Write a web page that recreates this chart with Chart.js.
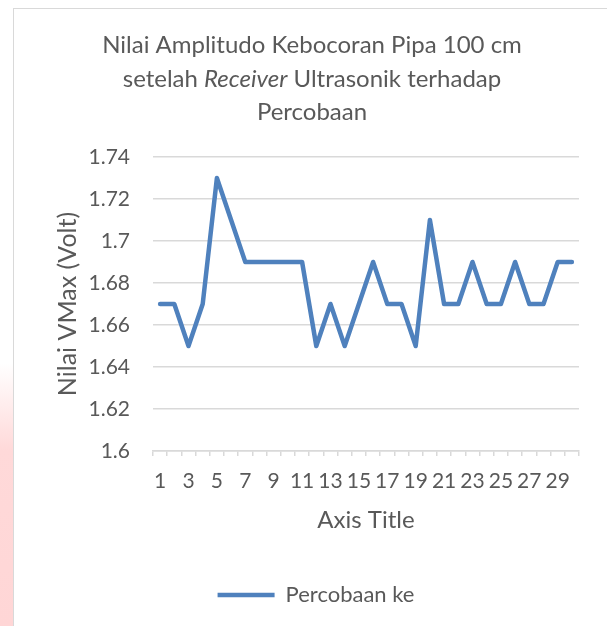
<!DOCTYPE html>
<html>
<head>
<meta charset="utf-8">
<script src="https://cdn.jsdelivr.net/npm/chart.js@4.4.0/dist/chart.umd.min.js"></script>
<style>
  html, body { margin: 0; padding: 0; background: #fff; }
  #wrap { position: relative; width: 607px; height: 626px; overflow: hidden; }
  #frame { position: absolute; left: 13px; top: 8px; width: 620px; height: 640px; border: 1px solid #d9d9d9; }
  #mark { position: absolute; left: 0; top: 0; width: 13px; height: 626px;
          background: linear-gradient(to bottom, #fff 0%, #fff 58%, #ffd9d9 72%, #ffd6d6 100%); }
  canvas { position: absolute; left: 0; top: 0; }
</style>
</head>
<body>
<div id="wrap">
  <div id="mark"></div>
  <div id="frame"></div>
  <canvas id="lineChart" width="607" height="626"></canvas>
</div>
<script>
var percobaan = ['1','2','3','4','5','6','7','8','9','10','11','12','13','14','15',
                 '16','17','18','19','20','21','22','23','24','25','26','27','28','29','30'];
var vmax = [1.67, 1.67, 1.65, 1.67, 1.73, 1.71, 1.69, 1.69, 1.69, 1.69,
            1.69, 1.65, 1.67, 1.65, 1.67, 1.69, 1.67, 1.67, 1.65, 1.71,
            1.67, 1.67, 1.69, 1.67, 1.67, 1.69, 1.67, 1.67, 1.69, 1.69];
var yMin = 1.6, yMax = 1.74, yStep = 0.02;

var textColor = '#595959';
var gridColor = '#d9d9d9';
var fontName = 'Lato';

// title with italic "Receiver" (Chart.js title can't mix styles)
var titlePlugin = {
    id: 'mixedTitle',
    afterDraw: function(chart) {
        var ctx = chart.ctx;
        var cx = 312;
        var size = '24px ';
        var lines = [
            [['Nilai Amplitudo Kebocoran Pipa 100 cm', '']],
            [['setelah ', ''], ['Receiver', 'italic '], [' Ultrasonik terhadap', '']],
            [['Percobaan', '']]
        ];
        var baselines = [53, 86.5, 120];
        ctx.save();
        ctx.fillStyle = textColor;
        ctx.textBaseline = 'alphabetic';
        ctx.textAlign = 'left';
        lines.forEach(function(parts, i) {
            var total = 0;
            parts.forEach(function(p) {
                ctx.font = p[1] + size + fontName;
                total += ctx.measureText(p[0]).width;
            });
            var x = cx - total / 2;
            parts.forEach(function(p) {
                ctx.font = p[1] + size + fontName;
                ctx.fillText(p[0], x, baselines[i]);
                x += ctx.measureText(p[0]).width;
            });
        });
        ctx.restore();
    }
};

var ctx = document.getElementById('lineChart').getContext('2d');
new Chart(ctx, {
    type: 'line',
    data: {
        labels: percobaan,
        datasets: [{
            label: 'Percobaan ke',
            data: vmax,
            borderColor: '#4f81bd',
            backgroundColor: '#4f81bd',
            borderWidth: 4.5,
            borderCapStyle: 'round',
            borderJoinStyle: 'round',
            pointRadius: 0,
            tension: 0
        }]
    },
    options: {
        responsive: false,
        animation: false,
        layout: {
            padding: { top: 157, left: 53, right: 28, bottom: 10 }
        },
        scales: {
            x: {
                offset: true,
                grid: { offset: true, drawOnChartArea: false, drawTicks: true, tickLength: 5, color: gridColor, lineWidth: 1.5 },
                border: { display: true, color: gridColor, width: 1.5 },
                ticks: {
                    autoSkip: false,
                    maxRotation: 0,
                    padding: 13,
                    color: textColor,
                    font: { family: fontName, size: 21 },
                    callback: function(val, i) {
                        return i % 2 === 0 ? this.getLabelForValue(val) : '';
                    }
                },
                title: {
                    display: true,
                    text: 'Axis Title',
                    color: textColor,
                    font: { family: fontName, size: 24 },
                    padding: { top: 39, bottom: 39 }
                },
                afterFit: function(s) { s.height = 123; }
            },
            y: {
                min: yMin,
                max: yMax,
                grid: { drawTicks: false, color: gridColor, lineWidth: 1.5 },
                border: { display: false },
                ticks: {
                    stepSize: yStep,
                    padding: 23,
                    color: textColor,
                    font: { family: fontName, size: 21 },
                    callback: function(v) { return String(Math.round(v * 100) / 100); }
                },
                title: {
                    display: true,
                    text: 'Nilai VMax (Volt)',
                    color: textColor,
                    font: { family: fontName, size: 25 },
                    padding: { top: 0, bottom: 4 }
                },
                afterFit: function(s) { s.width = 153 - 53; }
            }
        },
        plugins: {
            title: { display: false },
            tooltip: { enabled: false },
            legend: {
                display: true,
                position: 'bottom',
                labels: {
                    usePointStyle: true,
                    pointStyle: 'line',
                    pointStyleWidth: 57,
                    color: textColor,
                    font: { family: fontName, size: 22 },
                    padding: 10
                }
            }
        }
    },
    plugins: [titlePlugin]
});
</script>
</body>
</html>
